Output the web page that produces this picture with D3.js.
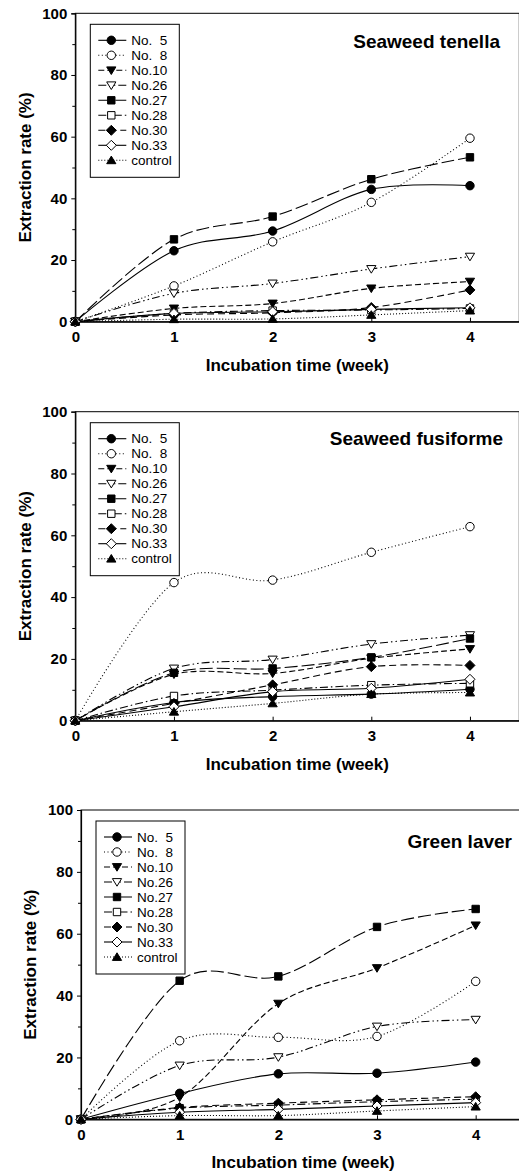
<!DOCTYPE html>
<html>
<head>
<meta charset="utf-8">
<script src="https://cdn.jsdelivr.net/npm/d3@7"></script>
<style>
body { margin: 0; background: #fff; }
text { font-family: "Liberation Sans", Arial, sans-serif; }
</style>
</head>
<body>
<svg id="chart" width="519" height="1175"></svg>
<script>
// incubation weeks and strain names
var weeks = [0, 1, 2, 3, 4];
var strains = ["No.  5", "No.  8", "No.10", "No.26", "No.27", "No.28", "No.30", "No.33", "control"];
var xTicks = [0, 1, 2, 3, 4];
var yTicks = [0, 20, 40, 60, 80, 100];
var yMinor = [10, 30, 50, 70, 90];

// extraction rate (%), one row per strain, same order as strains[]
var tenella = [
  [0, 23.0, 29.4, 42.9, 44.1],
  [0, 11.6, 25.9, 38.7, 59.5],
  [0, 4.3, 5.9, 10.8, 13.0],
  [0, 9.2, 12.4, 17.1, 21.1],
  [0, 26.7, 34.1, 46.2, 53.3],
  [0, 2.7, 3.6, 3.8, 4.3],
  [0, 2.2, 2.9, 4.6, 10.3],
  [0, 2.7, 3.2, 4.0, 4.5],
  [0, 0.8, 0.9, 2.2, 3.6]
];
var fusiforme = [
  [0, 5.9, 7.8, 8.6, 10.2],
  [0, 44.7, 45.5, 54.5, 62.8],
  [0, 15.0, 15.3, 20.2, 23.2],
  [0, 16.9, 19.8, 24.8, 27.7],
  [0, 15.5, 16.9, 20.5, 26.6],
  [0, 8.0, 9.9, 11.5, 12.1],
  [0, 5.6, 11.6, 17.5, 17.9],
  [0, 4.5, 9.4, 10.5, 13.4],
  [0, 2.9, 5.6, 8.6, 9.1]
];
var greenLaver = [
  [0, 8.4, 14.7, 14.9, 18.5],
  [0, 25.4, 26.5, 26.8, 44.6],
  [0, 7.1, 37.4, 48.9, 62.7],
  [0, 17.4, 20.1, 30.0, 32.2],
  [0, 44.8, 46.2, 62.2, 68.0],
  [0, 3.6, 4.6, 5.7, 6.5],
  [0, 3.8, 5.2, 6.3, 7.3],
  [0, 2.3, 3.2, 4.3, 5.4],
  [0, 1.2, 1.2, 2.7, 4.1]
];

// line / marker styles per strain
var dashes = [null, "1,2.5", "6,3", "8,3,1.5,3,1.5,3", "13,4", "8,3,1.5,3", "7,4", null, "1,2"];
var shapes = ["circle", "circle", "tridown", "tridown", "square", "square", "diamond", "diamond", "triup"];
var filled = [true, false, true, false, true, false, true, false, true];

function markerPath(shape) {
  if (shape == "circle") return d3.symbol(d3.symbolCircle, 56)();
  if (shape == "square") return "M-3.7,-3.7H3.7V3.7H-3.7Z";
  if (shape == "tridown") return "M-4.6,-3.4L4.6,-3.4L0,4.2Z";
  if (shape == "triup") return "M0,-4.2L4.6,3.4L-4.6,3.4Z";
  return "M0,-5L5,0L0,5L-5,0Z";
}

var svg = d3.select("#chart");

function drawPanel(p) {
  var g = svg.append("g");
  var x = d3.scaleLinear().domain([0, 4.5]).range([p.left, p.left + 444]);
  var y = d3.scaleLinear().domain([0, 100]).range([p.bottom, p.top]);

  // frame
  g.append("rect")
    .attr("x", x(0)).attr("y", y(100))
    .attr("width", x(4.5) - x(0)).attr("height", y(0) - y(100))
    .attr("fill", "none").attr("stroke", "#000").attr("stroke-width", 1);

  // y axis
  var yAxis = g.append("g").attr("transform", "translate(" + x(0) + ",0)")
    .call(d3.axisLeft(y).tickValues(yTicks).tickSize(4).tickPadding(4));
  yAxis.select(".domain").attr("stroke-width", 1.2);
  yAxis.selectAll("text").attr("font-size", 15).attr("font-weight", "bold")
    .style("font-family", "'Liberation Sans', Arial, sans-serif");
  g.append("g").attr("transform", "translate(" + x(0) + ",0)")
    .call(d3.axisLeft(y).tickValues(yMinor).tickSize(3).tickFormat(""))
    .select(".domain").remove();

  // x axis, ticks inward
  var xAxis = g.append("g").attr("transform", "translate(0," + y(0) + ")")
    .call(d3.axisBottom(x).tickValues(xTicks).tickFormat(d3.format("d"))
      .tickSizeInner(-4).tickSizeOuter(0).tickPadding(10));
  xAxis.select(".domain").attr("stroke-width", 1.2);
  xAxis.selectAll("text").attr("font-size", 15).attr("font-weight", "bold")
    .style("font-family", "'Liberation Sans', Arial, sans-serif");

  // axis titles
  g.append("text")
    .attr("x", (x(0) + x(4.5)) / 2).attr("y", y(0) + 49)
    .attr("text-anchor", "middle").attr("font-size", 17).attr("font-weight", "bold")
    .text("Incubation time (week)");
  g.append("text")
    .attr("transform", "translate(" + p.ytitleX + "," + (y(0) + y(100)) / 2 + ") rotate(-90)")
    .attr("y", 6)
    .attr("text-anchor", "middle").attr("font-size", 17).attr("font-weight", "bold")
    .text("Extraction rate (%)");

  // panel title
  g.append("text")
    .attr("x", p.titleX).attr("y", y(100) + p.titleDy)
    .attr("text-anchor", "end").attr("font-size", 19).attr("font-weight", "bold")
    .text(p.title);

  // series lines
  var line = d3.line()
    .x(function(d, i) { return x(weeks[i]); })
    .y(function(d) { return y(d); })
    .curve(d3.curveCardinal.tension(0));

  p.values.forEach(function(vals, s) {
    g.append("path").datum(vals)
      .attr("d", line)
      .attr("fill", "none").attr("stroke", "#000").attr("stroke-width", 1.1)
      .attr("stroke-dasharray", dashes[s]);
  });
  p.values.forEach(function(vals, s) {
    g.selectAll(null).data(vals).enter().append("path")
      .attr("transform", function(d, i) { return "translate(" + x(weeks[i]) + "," + y(d) + ")"; })
      .attr("d", markerPath(shapes[s]))
      .attr("fill", filled[s] ? "#000" : "#fff")
      .attr("stroke", "#000").attr("stroke-width", 1);
  });

  // legend
  var lx = x(0) + p.legDx, ly = y(100) + 11;
  var leg = g.append("g").attr("transform", "translate(" + lx + "," + ly + ")");
  leg.append("rect").attr("width", 89).attr("height", 153)
    .attr("fill", "#fff").attr("stroke", "#000").attr("stroke-width", 1);
  strains.forEach(function(name, s) {
    var ry = 16 + s * 15;
    leg.append("line").attr("x1", 8).attr("x2", 36).attr("y1", ry).attr("y2", ry)
      .attr("stroke", "#000").attr("stroke-width", 1.1)
      .attr("stroke-dasharray", dashes[s]);
    leg.append("path").attr("transform", "translate(21," + ry + ")")
      .attr("d", markerPath(shapes[s]))
      .attr("fill", filled[s] ? "#000" : "#fff")
      .attr("stroke", "#000").attr("stroke-width", 1);
    leg.append("text").attr("x", 41).attr("y", ry + 4.8)
      .attr("font-size", 13.5).style("white-space", "pre")
      .text(name);
  });
}

drawPanel({ left: 75.3, top: 13.3, bottom: 321.7, values: tenella, title: "Seaweed tenella", titleX: 500, titleDy: 35, ytitleX: 25, legDx: 15 });
drawPanel({ left: 75.3, top: 411.7, bottom: 720.7, values: fusiforme, title: "Seaweed fusiforme", titleX: 503, titleDy: 33, ytitleX: 25, legDx: 15 });
drawPanel({ left: 81, top: 810, bottom: 1119.3, values: greenLaver, title: "Green laver", titleX: 512, titleDy: 38, ytitleX: 30, legDx: 15 });
</script>
</body>
</html>
